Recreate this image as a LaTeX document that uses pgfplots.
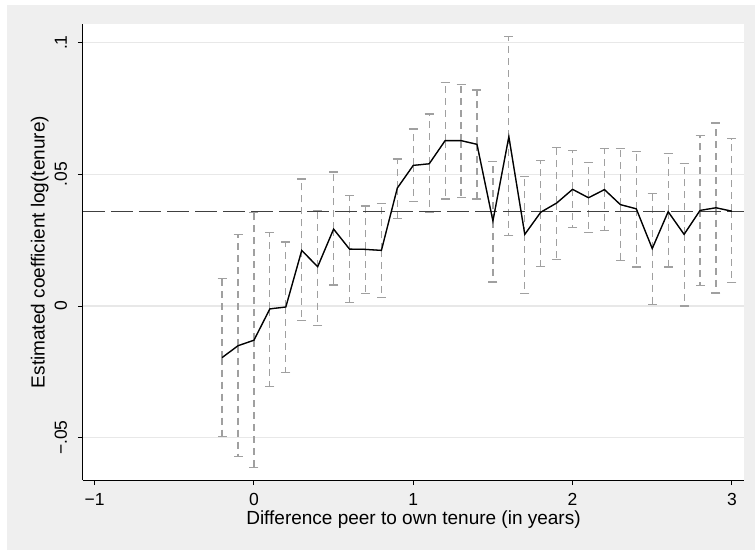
\documentclass[border=0pt]{standalone}
\usepackage{pgfplots}
\usepackage{pgfplotstable}
\pgfplotsset{compat=1.18}
\usepackage{fontspec}
\setmainfont{Liberation Sans}
\definecolor{bggray}{RGB}{239,239,239}
\definecolor{gridgray}{RGB}{232,232,232}
\definecolor{errgray}{RGB}{160,160,160}
\definecolor{hgray}{RGB}{64,64,64}

\pgfplotstableread{
x    y       lo       hi
-0.2 -0.0196 -0.0496  0.0103
-0.1 -0.0151 -0.0572  0.0270
0.0  -0.0130 -0.0612  0.0354
0.1  -0.0011 -0.0305  0.0280
0.2  -0.0004 -0.0252  0.0243
0.3   0.0211 -0.0056  0.0482
0.4   0.0149 -0.0073  0.0364
0.5   0.0292  0.0080  0.0509
0.6   0.0216  0.0013  0.0420
0.7   0.0215  0.0048  0.0380
0.8   0.0211  0.0033  0.0388
0.9   0.0448  0.0331  0.0558
1.0   0.0534  0.0396  0.0672
1.1   0.0540  0.0354  0.0729
1.2   0.0628  0.0406  0.0849
1.3   0.0628  0.0413  0.0842
1.4   0.0614  0.0406  0.0820
1.5   0.0323  0.0091  0.0549
1.6   0.0643  0.0268  0.1024
1.7   0.0272  0.0048  0.0492
1.8   0.0356  0.0149  0.0552
1.9   0.0391  0.0178  0.0601
2.0   0.0443  0.0297  0.0591
2.1   0.0411  0.0280  0.0544
2.2   0.0442  0.0287  0.0597
2.3   0.0385  0.0173  0.0597
2.4   0.0369  0.0148  0.0588
2.5   0.0218  0.0006  0.0426
2.6   0.0358  0.0148  0.0578
2.7   0.0272  0.0000  0.0540
2.8   0.0363  0.0077  0.0648
2.9   0.0373  0.0049  0.0695
3.0   0.0360  0.0088  0.0635
}\ci

\begin{document}
\begin{tikzpicture}
\path[use as bounding box] (-83pt,-70pt) rectangle (672pt,480pt);
\fill[white] (-83pt,-70pt) rectangle (672pt,480pt);
\fill[bggray] (-76pt,-70pt) rectangle (672pt,475pt);
\begin{axis}[
  at={(0pt,0pt)}, anchor=south west,
  scale only axis, width=661pt, height=456pt,
  xmin=-1.073, xmax=3.076, ymin=-0.0661, ymax=0.1071,
  axis x line*=bottom, axis y line*=left,
  axis line style={-, black, line width=1pt},
  axis background/.style={fill=white},
  tick align=outside, major tick length=5pt,
  tick style={black, line width=0.9pt},
  xtick={-1,0,1,2,3}, xticklabels={−1,0,1,2,3},
  ytick={-0.05,0,0.05,0.1}, yticklabels={−.05,0,.05,.1},
  minor tick num=0,
  ymajorgrids, grid style={gridgray, line width=1.3pt},
  xticklabel style={font=\fontsize{17.5}{20}\selectfont, anchor=base, inner sep=0pt, yshift=-20.5pt},
  yticklabel style={font=\fontsize{17.5}{20}\selectfont, xshift=-11pt, rotate=90, anchor=base, inner sep=0pt},
  every axis x label/.style={at={(axis description cs:0.5,-0.0965)}, anchor=base, font=\fontsize{19}{22}\selectfont},
  every axis y label/.style={at={(axis description cs:-0.0582,0.5)}, rotate=90, anchor=base, font=\fontsize{19}{22}\selectfont},
  xlabel={Difference peer to own tenure (in years)},
  ylabel={Estimated coefficient log(tenure)},
  clip=false,
]
\addplot[forget plot, errgray, line width=1.2pt, mark=none,
  error bars/.cd, y dir=both, y explicit,
  error bar style={errgray, line width=1.2pt, dash pattern=on 7pt off 5pt},
  error mark=|,
  error mark options={errgray, line width=1.2pt, mark size=4.5pt, solid}]
  table[x=x, y=y, y error plus expr=\thisrow{hi}-\thisrow{y}, y error minus expr=\thisrow{y}-\thisrow{lo}]{\ci};
\addplot[hgray, line width=1.3pt, dash pattern=on 22pt off 6pt] coordinates {(-1.073,0.0358) (3.076,0.0358)};
\addplot[black, line width=1.3pt, mark=none] table[x=x, y=y]{\ci};
\end{axis}
\end{tikzpicture}
\end{document}
